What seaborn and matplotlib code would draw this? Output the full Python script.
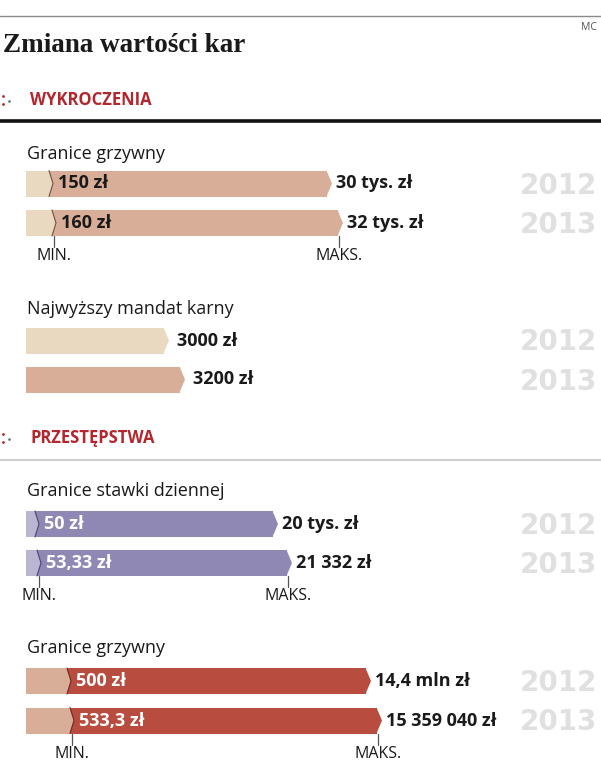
import matplotlib
matplotlib.use("Agg")
import matplotlib.pyplot as plt
import seaborn as sns

# ============================================================================
# DATA (bar lengths are the drawn lengths, values are labels)
# ============================================================================

years = ["2012", "2013"]

# Wykroczenia - granice grzywny
wyk_min_labels = ["150 zł", "160 zł"]
wyk_max_labels = ["30 tys. zł", "32 tys. zł"]
wyk_min_len = [23, 26]
wyk_max_len = [301, 312]

# Wykroczenia - najwyzszy mandat karny
mandat_labels = ["3000 zł", "3200 zł"]
mandat_len = [138, 154]

# Przestepstwa - granice stawki dziennej
stawka_min_labels = ["50 zł", "53,33 zł"]
stawka_max_labels = ["20 tys. zł", "21 332 zł"]
stawka_min_len = [9, 11]
stawka_max_len = [247, 261]

# Przestepstwa - granice grzywny
grz_min_labels = ["500 zł", "533,3 zł"]
grz_max_labels = ["14,4 mln zł", "15 359 040 zł"]
grz_min_len = [41, 44]
grz_max_len = [340, 351]

# ============================================================================
# STYLE
# ============================================================================

sns.set_theme(style="white")
plt.rcParams['font.family'] = ['Open Sans', 'DejaVu Sans']

BEIGE = '#E8D9C0'
SALMON = '#D8AE98'
LAV = '#BAB5D0'
PURPLE = '#9088B4'
RED = '#B84C3F'
HEAD_RED = '#B3262E'
DARK = '#1a1a1a'
YEAR_GRAY = '#E0E0E0'
VAL_FS = 13

W, H = 601, 760
X0 = 26     # left edge of the bars (px)
TIP = 5     # arrow tip length (px)
BAR_H = 26  # bar thickness (px)

fig = plt.figure(figsize=(W / 100, H / 100), dpi=100)
bg = fig.add_axes([0, 0, 1, 1])
bg.set_xlim(0, W)
bg.set_ylim(H, 0)
bg.axis("off")


def bar_axes(c0, c1):
    s = c1 - c0
    top, bottom = c0 - s / 2, c1 + s / 2
    ax = fig.add_axes([0, 1 - bottom / H, 1, (bottom - top) / H])
    return ax, BAR_H / s, s


def finish(ax):
    ax.set_xlim(-X0, W - X0)
    ax.set_ylim(1.5, -0.5)
    ax.axis("off")


def arrows(ax, lengths, colors, w, tip=TIP):
    for i, (L, c) in enumerate(zip(lengths, colors)):
        ax.fill([L - 0.5, L + tip, L - 0.5], [i - w / 2, i, i + w / 2], color=c, lw=0)


def year_labels(centers):
    for yc, yr in zip(centers, years):
        bg.text(597, yc + 2, yr, family='DejaVu Sans', fontweight='bold',
                fontsize=20, color=YEAR_GRAY, ha="right", va="center")


def range_section(c0, c1, min_len, max_len, light, dark, min_lab, max_lab,
                  inner_color, edge):
    ax, w, s = bar_axes(c0, c1)
    sns.barplot(x=max_len, y=years, orient="h", color=dark, saturation=1,
                width=w, linewidth=0, ax=ax)
    arrows(ax, max_len, [dark, dark], w)
    sns.barplot(x=min_len, y=years, orient="h", color=light, saturation=1,
                width=w, linewidth=0, ax=ax)
    arrows(ax, min_len, [light, light], w, tip=4)
    for i, L in enumerate(min_len):
        ax.plot([L, L + 4, L], [i - w / 2, i, i + w / 2], color=edge, lw=0.8,
                solid_joinstyle="miter")
        ax.text(L + 9, i, min_lab[i], color=inner_color, fontsize=VAL_FS,
                fontweight="bold", va="center", ha="left")
        ax.text(max_len[i] + TIP + 4, i, max_lab[i], color=DARK, fontsize=VAL_FS,
                fontweight="bold", va="center", ha="left")
    finish(ax)
    # markers below the 2013 bar
    y_bot = c1 + BAR_H / 2
    for L, lab in [(min_len[1] + 2, "MIN."), (max_len[1] + 1, "MAKS.")]:
        bg.plot([X0 + L, X0 + L], [y_bot, y_bot + 11], color='#555555', lw=0.9)
        bg.text(X0 + L, y_bot + 20, lab, fontsize=11.5, color=DARK,
                ha="center", va="center")
    year_labels([c0, c1])


# ============================================================================
# HEADER
# ============================================================================

bg.plot([0, W], [16, 16], color='#8a8a8a', lw=1)
bg.text(597, 27, "MC", fontsize=7.5, color='#555555', ha="right", va="center")
bg.text(3, 45, "Zmiana wartości kar", family='Liberation Serif', fontweight='bold',
        fontsize=19.5, color=DARK, ha="left", va="center")


def section_head(y, text, line_color, line_w, line_y):
    bg.scatter([3, 3], [y - 4, y + 4], s=4, color=HEAD_RED, lw=0)
    bg.scatter([9], [y + 1], s=4, color='#777777', lw=0)
    bg.text(30, y, text, fontsize=12, fontweight='bold', color=HEAD_RED,
            ha="left", va="center")
    bg.plot([0, W], [line_y, line_y], color=line_color, lw=line_w)


section_head(100, "WYKROCZENIA", '#111111', 2.6, 121)

bg.text(27, 154, "Granice grzywny", fontsize=13, color=DARK, ha="left", va="center")
range_section(183.5, 223, wyk_min_len, wyk_max_len, BEIGE, SALMON,
              wyk_min_labels, wyk_max_labels, DARK, '#6b5346')

# najwyzszy mandat karny
bg.text(27, 309, "Najwyższy mandat karny", fontsize=13, color=DARK, ha="left", va="center")
ax_m, w_m, _ = bar_axes(340.5, 379.5)
sns.barplot(x=mandat_len, y=years, hue=years, palette=[BEIGE, SALMON], orient="h",
            saturation=1, width=w_m, linewidth=0, legend=False, ax=ax_m)
arrows(ax_m, mandat_len, [BEIGE, SALMON], w_m)
for i, L in enumerate(mandat_len):
    ax_m.text(L + TIP + 8, i, mandat_labels[i], color=DARK, fontsize=VAL_FS,
              fontweight="bold", va="center", ha="left")
finish(ax_m)
year_labels([340.5, 379.5])

# ============================================================================
# PRZESTEPSTWA
# ============================================================================

section_head(438, "PRZESTĘPSTWA", '#cfcfcf', 1.5, 460)

bg.text(27, 491, "Granice stawki dziennej", fontsize=13, color=DARK, ha="left", va="center")
range_section(524, 563, stawka_min_len, stawka_max_len, LAV, PURPLE,
              stawka_min_labels, stawka_max_labels, 'white', '#4e4670')

bg.text(27, 648, "Granice grzywny", fontsize=13, color=DARK, ha="left", va="center")
range_section(681, 720.5, grz_min_len, grz_max_len, SALMON, RED,
              grz_min_labels, grz_max_labels, 'white', '#6e2a22')

plt.savefig("out.png", dpi=100)
